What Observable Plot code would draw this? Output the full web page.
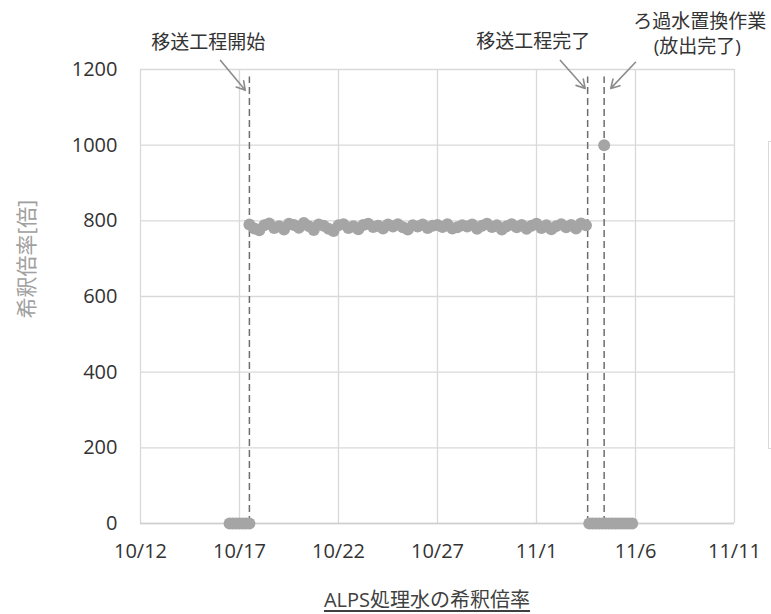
<!DOCTYPE html>
<html><head><meta charset="utf-8">
<script src="https://cdn.jsdelivr.net/npm/d3@7"></script>
<script src="https://cdn.jsdelivr.net/npm/@observablehq/plot@0.6"></script>
<style>
body{margin:0;background:#fff;}
#wrap{position:relative;width:771px;height:614px;overflow:hidden;font-family:"Open Sans","Noto Sans CJK JP",sans-serif;}
#legendStub{position:absolute;left:768px;top:141px;width:30px;height:306px;border:1px solid #d9d9d9;}
#caption{position:absolute;left:227px;width:400px;top:586px;text-align:center;font-size:20px;line-height:28px;color:#404040;text-decoration:underline;text-underline-offset:3px;}
</style></head><body><div id="wrap"></div>
<script>
const year = 2023;
const xTickDates = ["10-12","10-17","10-22","10-27","11-01","11-06","11-11"];
const yTicks = [0,200,400,600,800,1000,1200];

const dilutionTimes = [
 "10-17T12","10-17T18",
 "10-18T00","10-18T06","10-18T12","10-18T18",
 "10-19T00","10-19T06","10-19T12","10-19T18",
 "10-20T00","10-20T06","10-20T12","10-20T18",
 "10-21T00","10-21T06","10-21T12","10-21T18",
 "10-22T00","10-22T06","10-22T12","10-22T18",
 "10-23T00","10-23T06","10-23T12","10-23T18",
 "10-24T00","10-24T06","10-24T12","10-24T18",
 "10-25T00","10-25T06","10-25T12","10-25T18",
 "10-26T00","10-26T06","10-26T12","10-26T18",
 "10-27T00","10-27T06","10-27T12","10-27T18",
 "10-28T00","10-28T06","10-28T12","10-28T18",
 "10-29T00","10-29T06","10-29T12","10-29T18",
 "10-30T00","10-30T06","10-30T12","10-30T18",
 "10-31T00","10-31T06","10-31T12","10-31T18",
 "11-01T00","11-01T06","11-01T12","11-01T18",
 "11-02T00","11-02T06","11-02T12","11-02T18",
 "11-03T00","11-03T06","11-03T12"
];
const dilutionValues = [
 790,780,
 775,788,793,781,
 786,777,792,789,
 782,794,786,776,
 790,787,779,773,
 788,791,781,786,
 778,789,792,784,
 787,780,790,785,
 791,783,777,788,
 785,790,781,787,
 789,784,791,780,
 783,788,785,790,
 779,787,792,784,
 788,777,786,791,
 783,789,779,787,
 792,781,788,778,
 786,791,783,789,
 780,793,788
];
const zeroTimes = ["10-16T12","10-16T16","10-16T20","10-17T00","10-17T04","10-17T08","10-17T12",
 "11-03T16","11-03T20","11-04T00","11-04T04","11-04T08","11-04T12","11-04T16","11-04T20","11-05T00","11-05T04","11-05T08","11-05T12","11-05T16","11-05T20"];
const zeroValues = [0,0,0,0,0,0,0, 0,0,0,0,0,0,0,0,0,0,0,0,0,0];
const peakTimes = ["11-04T10"];
const peakValues = [1000];

const eventTimes = ["10-17T12","11-03T14","11-04T10"];
const labelTexts = ["移送工程開始","移送工程完了","ろ過水置換作業","(放出完了)"];
const labelTimes = ["10-15T10","10-31T20","11-09T06","11-09T03"];
const labelValues = [1271,1274,1327,1261];
const arrowFromTimes = ["10-16T01","11-02T05","11-06T00"];
const arrowFromValues = [1224,1224,1219];
const arrowToTimes = ["10-17T07","11-03T11","11-04T18"];
const arrowToValues = [1145,1150,1150];

const t = s => new Date(`${year}-${s.length===5 ? s+"T00" : s}:00Z`);

const dilution = dilutionTimes.map((d,i)=>({x:t(d), y:dilutionValues[i]}));
const zeros = zeroTimes.map((d,i)=>({x:t(d), y:zeroValues[i]}));
const peaks = peakTimes.map((d,i)=>({x:t(d), y:peakValues[i]}));
const points = [...zeros, ...dilution, ...peaks];
const events = eventTimes.map(t);
const labels = labelTexts.map((s,i)=>({text:s, x:t(labelTimes[i]), y:labelValues[i]}));
const arrows = arrowFromTimes.map((d,i)=>({x1:t(d), y1:arrowFromValues[i], x2:t(arrowToTimes[i]), y2:arrowToValues[i]}));
const xTicks = xTickDates.map(t);

const chart = Plot.plot({
  width: 771, height: 586,
  marginLeft: 140, marginRight: 37, marginTop: 69, marginBottom: 63,
  style: {fontFamily: '"Open Sans","Noto Sans CJK JP",sans-serif', fontSize: "20px", color: "#333", background: "#fff", overflow: "visible"},
  x: {type: "utc", domain: [xTicks[0], xTicks[xTicks.length-1]], ticks: xTicks,
      tickFormat: d => `${d.getUTCMonth()+1}/${d.getUTCDate()}`, tickSize: 0, tickPadding: 20, label: null},
  y: {domain: [0,1200], ticks: yTicks, tickFormat: d => String(d), tickSize: 0, tickPadding: 23, label: null},
  marks: [
    Plot.gridX(xTicks, {stroke: "#d9d9d9", strokeOpacity: 1, strokeWidth: 1.3}),
    Plot.gridY(yTicks, {stroke: "#d9d9d9", strokeOpacity: 1, strokeWidth: 1.3}),
    Plot.ruleY([0], {stroke: "#cfcfcf", strokeWidth: 1.5}),
    Plot.ruleX(events, {x: d => d, y1: 0, y2: 1180, stroke: "#6e6e6e", strokeWidth: 1.5, strokeDasharray: "7,4"}),
    Plot.dot(points, {x: "x", y: "y", r: 6, fill: "#a5a5a5", stroke: "none"}),
    Plot.arrow(arrows, {x1: "x1", y1: "y1", x2: "x2", y2: "y2", stroke: "#8c8c8c", strokeWidth: 1.6, headLength: 9}),
    Plot.text(labels, {x: "x", y: "y", text: "text", fill: "#333", fontSize: 19}),
    Plot.text(["希釈倍率[倍]"], {frameAnchor: "left", dx: -113, dy: 22, rotate: -90, fill: "#a0a0a0", fontSize: 21})
  ]
});
const wrap = document.getElementById("wrap");
wrap.appendChild(chart);
const stub = document.createElement("div"); stub.id = "legendStub"; wrap.appendChild(stub);
const cap = document.createElement("div"); cap.id = "caption"; cap.textContent = "ALPS処理水の希釈倍率"; wrap.appendChild(cap);
</script></body></html>
